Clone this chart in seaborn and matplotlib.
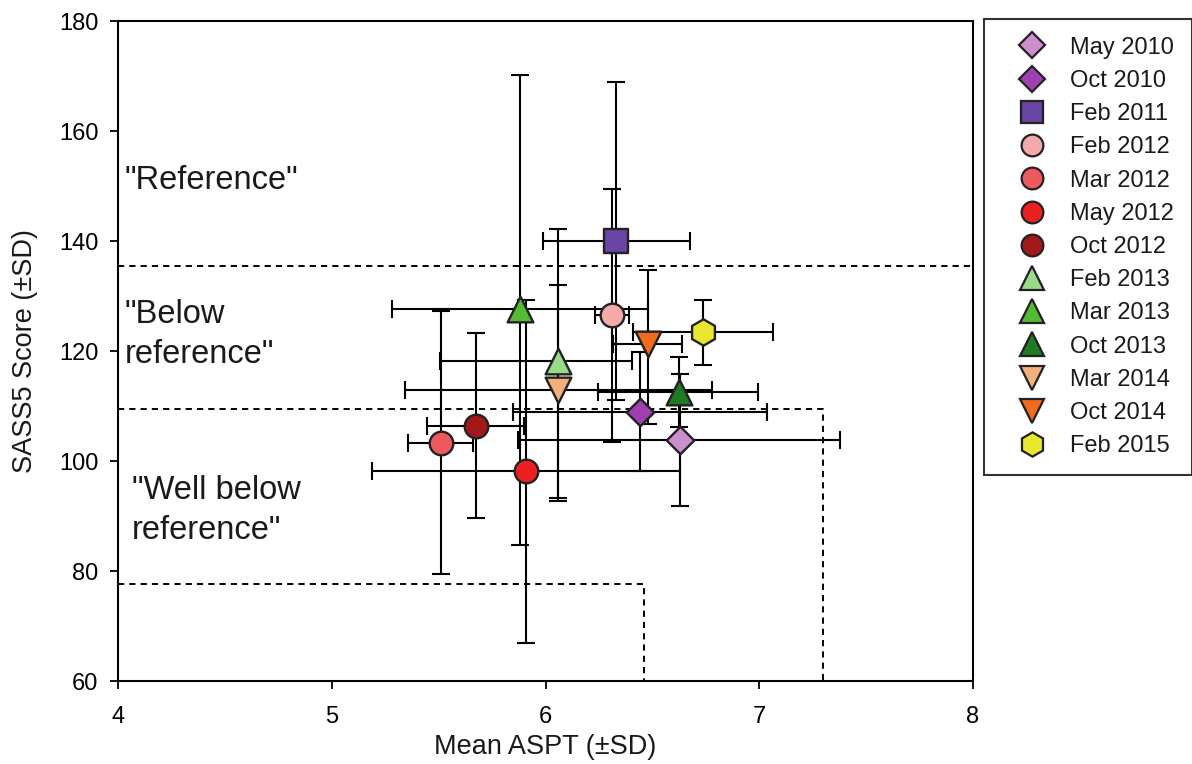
import matplotlib
matplotlib.use("Agg")
import matplotlib.pyplot as plt
from matplotlib.lines import Line2D
import numpy as np
import pandas as pd
import seaborn as sns

# ---------------- data ----------------
labels = ["May 2010", "Oct 2010", "Feb 2011", "Feb 2012", "Mar 2012", "May 2012",
          "Oct 2012", "Feb 2013", "Mar 2013", "Oct 2013", "Mar 2014", "Oct 2014",
          "Feb 2015"]
aspt_mean = [6.63, 6.44, 6.33, 6.31, 5.51, 5.91, 5.675, 6.06, 5.88, 6.625, 6.06, 6.478, 6.738]
sass_mean = [103.8, 109.0, 140.0, 126.5, 103.3, 98.2, 106.4, 118.1, 127.6, 112.6, 112.9, 121.2, 123.4]
# error bar extents (mean +/- SD)
aspt_low = [5.87, 5.846, 5.987, 6.232, 5.358, 5.19, 5.447, 5.506, 5.28, 6.247, 5.343, 6.317, 6.408]
aspt_high = [7.38, 7.035, 6.676, 6.391, 5.66, 6.63, 5.90, 6.403, 6.48, 6.993, 6.777, 6.637, 7.066]
sass_low = [91.8, 98.2, 111.1, 103.4, 79.4, 66.85, 89.6, 93.2, 84.7, 106.2, 92.8, 106.7, 117.5]
sass_high = [115.8, 119.8, 169.0, 149.5, 127.3, 129.2, 123.2, 142.2, 170.2, 118.9, 132.0, 134.7, 129.3]

colors = ["#CC8FCC", "#9F3FB0", "#6A45A6", "#F4AAAA", "#EC5A5E", "#EC2020", "#A3191B",
          "#9ADB8A", "#55BB35", "#1F7A23", "#F3B07D", "#F26A1D", "#E8E62E"]
markers = ["D", "D", "s", "o", "o", "o", "o", "^", "^", "^", "v", "v", "h"]
msizes = [14, 14, 17, 17, 17, 17, 17, 18.5, 18.5, 18.5, 18.5, 18.5, 19]

# category boundaries
ref_y = 135.5
below_y, below_x = 109.5, 7.30
well_y, well_x = 77.7, 6.46

region_text = ['"Reference"', '"Below\nreference"', '"Well below\nreference"']
region_x = [4.03, 4.03, 4.065]
region_y = [151.0, 123.0, 91.0]

xlim = (4, 8)
ylim = (60, 180)

# ---------------- plot ----------------
sns.set_theme(style="ticks")
plt.rcParams["font.family"] = ["Liberation Sans", "DejaVu Sans"]

fig = plt.figure(figsize=(11.92, 7.64), dpi=100)
ax = fig.add_axes([118 / 1192, 1 - 681 / 764, (973 - 118) / 1192, (681 - 21) / 764])

df = pd.DataFrame({"label": labels, "x": aspt_mean, "y": sass_mean})

x = np.array(aspt_mean)
y = np.array(sass_mean)
xerr = np.vstack([x - np.array(aspt_low), np.array(aspt_high) - x])
yerr = np.vstack([y - np.array(sass_low), np.array(sass_high) - y])

# boundaries (dashed)
dash = dict(color="black", lw=1.4, ls=(0, (3.2, 2.6)), zorder=1)
ax.plot([xlim[0], xlim[1]], [ref_y, ref_y], **dash)
ax.plot([xlim[0], below_x, below_x], [below_y, below_y, ylim[0]], **dash)
ax.plot([xlim[0], well_x, well_x], [well_y, well_y, ylim[0]], **dash)

# error bars
ax.errorbar(x, y, xerr=xerr, yerr=yerr, fmt="none", ecolor="black",
            elinewidth=1.5, capsize=6.5, capthick=1.5, zorder=2)

# markers via seaborn
for i, lab in enumerate(labels):
    sns.scatterplot(data=df[df["label"] == lab], x="x", y="y", marker=markers[i],
                    color=colors[i], s=msizes[i] ** 2, edgecolor="#222222",
                    linewidth=1.7, zorder=3, ax=ax, legend=False)

for t, tx, ty in zip(region_text, region_x, region_y):
    ax.text(tx, ty, t, fontsize=23.5, ha="left", va="center", linespacing=1.35,
            color="#1a1a1a")

ax.set_xlim(*xlim)
ax.set_ylim(*ylim)
ax.set_xticks(np.arange(4, 9, 1))
ax.set_yticks(np.arange(60, 181, 20))
ax.tick_params(direction="out", length=6, width=1.3, labelsize=17, colors="black")
ax.tick_params(axis="x", pad=12)
ax.tick_params(axis="y", pad=8)
for sp in ax.spines.values():
    sp.set_visible(True)
    sp.set_color("black")
    sp.set_linewidth(1.5)
ax.set_xlabel("Mean ASPT (±SD)", fontsize=19.5, labelpad=4, color="#1a1a1a")
ax.set_ylabel("SASS5 Score (±SD)", fontsize=19.5, labelpad=15, color="#1a1a1a")

handles = [Line2D([0], [0], marker=markers[i], color="none", markerfacecolor=colors[i],
                  markeredgecolor="#222222", markeredgewidth=1.6,
                  markersize=msizes[i] * 0.92, linestyle="none")
           for i in range(len(labels))]
leg = fig.legend(handles, labels, loc="upper left",
                 bbox_to_anchor=(984 / 1192, 1 - 19 / 764), fontsize=17,
                 frameon=True, fancybox=False, edgecolor="black",
                 handlelength=2.55, handletextpad=0.35, labelspacing=0.475,
                 borderpad=0.75, borderaxespad=0)
leg.get_frame().set_linewidth(1.5)
for t in leg.get_texts():
    t.set_color("#1a1a1a")

fig.savefig("out.png", dpi=100)
